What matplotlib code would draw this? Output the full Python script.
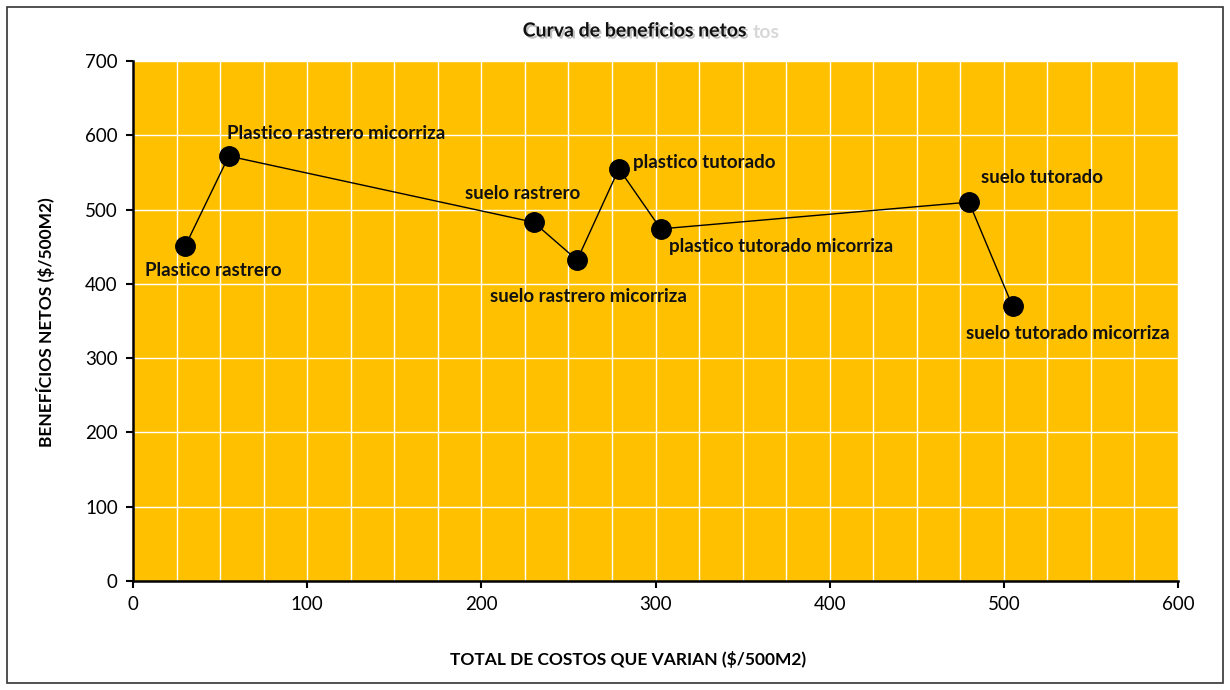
#!/usr/bin/env python3
# -*- coding: utf-8 -*-

import numpy as np
import matplotlib
matplotlib.use('Agg')
import matplotlib.pyplot as plt
import matplotlib.patheffects as pe
from matplotlib.patches import Rectangle

## data
costos = [30, 55, 230, 255, 279, 303, 480, 505]
beneficios = [451, 572, 483, 432, 555, 474, 510, 370]
nombres = ['Plastico rastrero', 'Plastico rastrero micorriza', 'suelo rastrero',
           'suelo rastrero micorriza', 'plastico tutorado',
           'plastico tutorado micorriza', 'suelo tutorado',
           'suelo tutorado micorriza']
# label offsets (pixels) from each point
offsets = [(-40, -25), (-2, 23), (-69, 29), (-87, -36), (14, 6), (8, -18),
           (12, 25), (-47, -27)]

plt.rcParams['font.family'] = ['Lato', 'DejaVu Sans']

fig = plt.figure(figsize=(12.3, 6.9), dpi=100)
ax = fig.add_axes([133/1230, 109/690, 1045/1230, 520/690])

ax.set_facecolor('#FFC000')
ax.plot(costos, beneficios, color='black', lw=1.0, marker='o', ms=14,
        mfc='black', mec='black', zorder=3)

for x, y, n, (dx, dy) in zip(costos, beneficios, nombres, offsets):
    ax.annotate(n, (x, y), xytext=(dx, dy), textcoords='offset pixels',
                ha='left', va='center', fontsize=13.5, fontweight='bold',
                color='#111111', zorder=4)

ax.set_xlim(0, 600)
ax.set_ylim(0, 700)
ax.set_xticks(np.arange(0, 601, 100))
ax.set_yticks(np.arange(0, 701, 100))
ax.set_xticks(np.arange(0, 601, 25), minor=True)
ax.grid(which='both', color='white', lw=1.0)
ax.set_axisbelow(True)
ax.tick_params(which='major', direction='out', length=5, width=1.5,
               labelsize=13.5, colors='black', pad=6)
ax.tick_params(which='minor', length=0)
for s in ['top', 'right']:
    ax.spines[s].set_visible(False)
for s in ['left', 'bottom']:
    ax.spines[s].set_linewidth(1.8)

## title (with the faint leftover "tos" seen in the original)
fig.text(635/1230, 1 - 31/690, 'Curva de beneficios netos', ha='center',
         va='center', fontsize=14, fontweight='bold', color='#111111',
         path_effects=[pe.withSimplePatchShadow(offset=(1.5, -1.5),
                                                 shadow_rgbFace='#999999',
                                                 alpha=0.6)])
fig.text(753/1230, 1 - 33/690, 'tos', ha='left', va='center', fontsize=14,
         fontweight='bold', color='#d8d8d8')

fig.text(628/1230, 1 - 660/690, 'TOTAL DE COSTOS QUE VARIAN ($/500M2)',
         ha='center', va='center', fontsize=12.5, fontweight='bold')
fig.text(46/1230, 1 - 322/690, 'BENEFÍCIOS NETOS ($/500M2)', ha='center',
         va='center', rotation=90, fontsize=12.5, fontweight='bold')

## outer border
fig.patches.append(Rectangle((7/1230, 7/690), 1216/1230, 676/690,
                             transform=fig.transFigure, fill=False,
                             edgecolor='#333333', lw=1.2))

fig.savefig('out.png', dpi=100)
